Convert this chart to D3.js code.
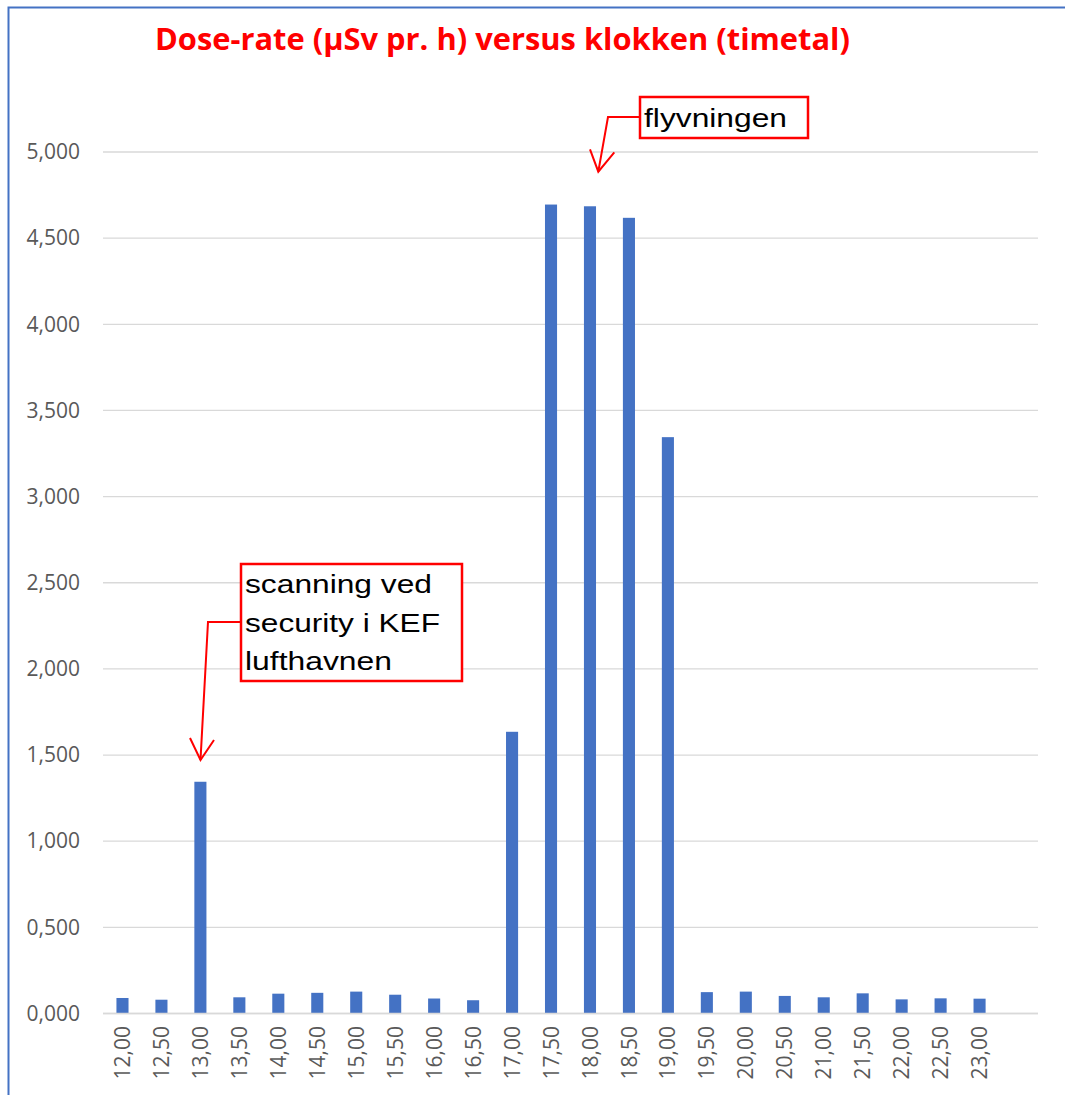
<!DOCTYPE html>
<html>
<head>
<meta charset="utf-8">
<script src="https://cdn.jsdelivr.net/npm/d3@7"></script>
<style>
  html, body { margin: 0; padding: 0; background: #fff; }
  svg { display: block; }
</style>
</head>
<body>
<svg id="chart" width="1065" height="1095"></svg>
<script>
// ---- data ----
const categories = ["12,00","12,50","13,00","13,50","14,00","14,50","15,00","15,50","16,00","16,50",
  "17,00","17,50","18,00","18,50","19,00","19,50","20,00","20,50","21,00","21,50","22,00","22,50","23,00"];
const doseRate = [0.090, 0.080, 1.345, 0.094, 0.115, 0.120, 0.127, 0.109, 0.087, 0.077,
  1.635, 4.695, 4.685, 4.618, 3.345, 0.124, 0.127, 0.102, 0.094, 0.117, 0.082, 0.088, 0.086];
const yTicks = [0, 0.5, 1, 1.5, 2, 2.5, 3, 3.5, 4, 4.5, 5];
const titleText = "Dose-rate (\u00b5Sv pr. h) versus klokken (timetal)";
const note1Lines = ["scanning ved", "security i KEF", "lufthavnen"];
const note2Lines = ["flyvningen"];

// ---- layout ----
const svg = d3.select("#chart");
const plotLeft = 103, plotRight = 1038, plotTop = 152, plotBottom = 1013.5;
const slots = categories.length + 1; // one empty slot on the right
const bandEnd = plotLeft + (plotRight - plotLeft) * categories.length / slots;

const x = d3.scaleBand().domain(categories).range([plotLeft, bandEnd]).paddingInner(0.69).paddingOuter(0.345);
const y = d3.scaleLinear().domain([0, 5]).range([plotBottom, plotTop]);
const fmt = v => d3.format(".3f")(v).replace(".", ",");

// frame
svg.append("path").attr("d", "M8.5,1095 V7.5 H1065")
  .attr("fill", "none").attr("stroke", "#4472c4").attr("stroke-width", 2);

// title
svg.append("text").attr("x", 155).attr("y", 50)
  .attr("textLength", 695).attr("lengthAdjust", "spacingAndGlyphs")
  .attr("font-family", "'Open Sans', sans-serif").attr("font-weight", "bold")
  .attr("font-size", 30).attr("fill", "#ff0000").text(titleText);

// gridlines
svg.append("g").selectAll("line").data(yTicks).join("line")
  .attr("x1", plotLeft).attr("x2", plotRight)
  .attr("y1", d => y(d)).attr("y2", d => y(d))
  .attr("stroke", "#d9d9d9").attr("stroke-width", 1.3);

// y axis labels
const yAxis = d3.axisLeft(y).tickValues(yTicks).tickFormat(fmt).tickSize(0).tickPadding(0);
const gy = svg.append("g").attr("transform", "translate(80,0)").call(yAxis);
gy.select(".domain").remove();
gy.selectAll("text").attr("font-family", "'Open Sans', sans-serif").attr("font-size", 21)
  .attr("fill", "#595959");

// bars
svg.append("g").selectAll("rect").data(doseRate).join("rect")
  .attr("x", (d, i) => x(categories[i]))
  .attr("width", x.bandwidth())
  .attr("y", d => y(d))
  .attr("height", d => y(0) - y(d))
  .attr("fill", "#4472c4");

// x axis line
svg.append("line").attr("x1", plotLeft).attr("x2", plotRight)
  .attr("y1", y(0)).attr("y2", y(0)).attr("stroke", "#d9d9d9").attr("stroke-width", 1.5);

// x axis labels
const xAxis = d3.axisBottom(x).tickSize(0).tickPadding(0);
const gx = svg.append("g").attr("transform", `translate(0,${y(0)})`).call(xAxis);
gx.select(".domain").remove();
gx.selectAll("text")
  .attr("font-family", "'Open Sans', sans-serif").attr("font-size", 21).attr("fill", "#595959")
  .attr("text-anchor", "end")
  .attr("transform", "translate(0,12.5) rotate(-90)")
  .attr("x", 0).attr("y", 0).attr("dy", "0.36em");

// annotations
function note(box, lines, baselines, widths, arrow, head) {
  const g = svg.append("g");
  g.append("polyline").attr("points", arrow.map(p => p.join(",")).join(" "))
    .attr("fill", "none").attr("stroke", "#ff0000").attr("stroke-width", 2);
  g.append("polyline").attr("points", head.map(p => p.join(",")).join(" "))
    .attr("fill", "none").attr("stroke", "#ff0000").attr("stroke-width", 2);
  g.append("rect").attr("x", box[0]).attr("y", box[1]).attr("width", box[2]).attr("height", box[3])
    .attr("fill", "#fff").attr("stroke", "#ff0000").attr("stroke-width", 2.5);
  lines.forEach((t, i) => {
    g.append("text").attr("x", box[0] + 4).attr("y", baselines[i])
      .attr("textLength", widths[i]).attr("lengthAdjust", "spacingAndGlyphs")
      .attr("font-family", "'Liberation Sans', Arial, sans-serif").attr("font-size", 26.5)
      .attr("fill", "#000").text(t);
  });
}
note([241, 564, 221, 117], note1Lines, [593, 632, 670], [187, 195, 147],
  [[241, 622], [208, 622], [200.5, 760]], [[190, 738], [200.5, 760], [214, 740]]);
note([640, 97, 168, 41], note2Lines, [127], [143],
  [[640, 117], [608, 117], [598.3, 171.7]], [[590, 149.3], [598.3, 171.7], [614.3, 152.3]]);
</script>
</body>
</html>
